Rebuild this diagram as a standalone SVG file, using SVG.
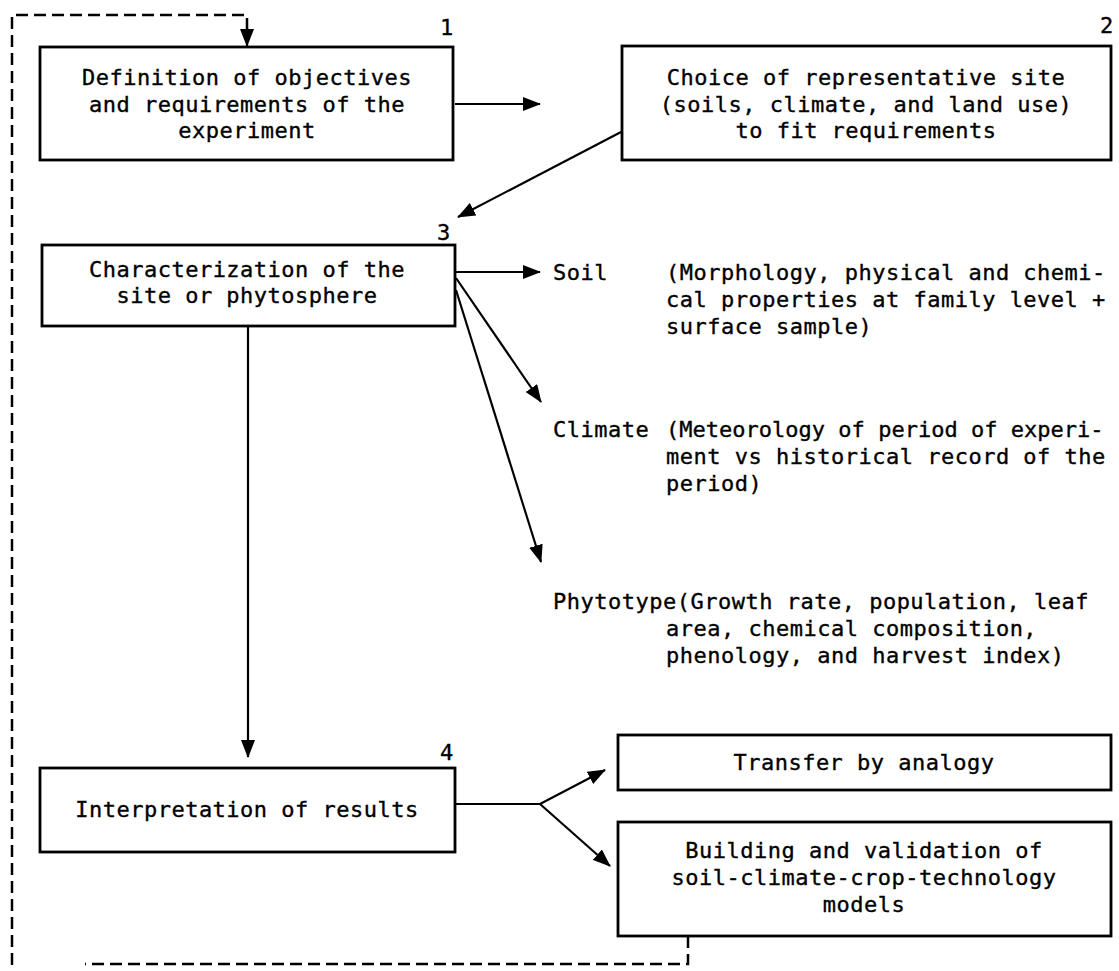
<svg xmlns="http://www.w3.org/2000/svg" width="1119" height="971" viewBox="0 0 1119 971">
<style>
.box{fill:#fff;stroke:#000;stroke-width:2.8}
.t{font-family:"DejaVu Sans Mono","Liberation Mono",monospace;font-size:22px;letter-spacing:0.5px;fill:#000;stroke:#000;stroke-width:0.35}
.c{text-anchor:middle}
.ln{fill:none;stroke:#000;stroke-width:2.2}
.dash{fill:none;stroke:#000;stroke-width:2.5;stroke-dasharray:12 6}
</style>
<defs>
<marker id="ah" markerWidth="18" markerHeight="14" refX="17" refY="7" orient="auto" markerUnits="userSpaceOnUse">
<path d="M0,0 L18,7 L0,14 Z" fill="#000"/>
</marker>
</defs>
<rect width="1119" height="971" fill="#fff"/>
<g id="connectors">
<path class="dash" d="M688,936 V964 H85"/>
<path class="dash" d="M12,965 V15 H247 V30"/>
<line class="ln" x1="247" y1="28" x2="247" y2="46" marker-end="url(#ah)"/>
<line class="ln" x1="455" y1="104" x2="540" y2="104" marker-end="url(#ah)"/>
<line class="ln" x1="621" y1="132" x2="458" y2="217" marker-end="url(#ah)"/>
<line class="ln" x1="456" y1="272" x2="540" y2="272" marker-end="url(#ah)"/>
<line class="ln" x1="456" y1="278" x2="541" y2="402" marker-end="url(#ah)"/>
<line class="ln" x1="456" y1="290" x2="541" y2="562" marker-end="url(#ah)"/>
<line class="ln" x1="248" y1="326" x2="248" y2="757" marker-end="url(#ah)"/>
<polyline class="ln" points="455,804 540,804"/>
<line class="ln" x1="540" y1="804" x2="605" y2="770" marker-end="url(#ah)"/>
<line class="ln" x1="540" y1="804" x2="610" y2="866" marker-end="url(#ah)"/>
</g>
<g id="n1">
<rect class="box" x="40" y="47" width="413" height="113"/>
<text class="t" x="440" y="35">1</text>
<text class="t c" x="247" y="85">Definition of objectives</text>
<text class="t c" x="247" y="112">and requirements of the</text>
<text class="t c" x="247" y="138">experiment</text>
</g>
<g id="n2">
<rect class="box" x="622" y="46" width="489" height="114"/>
<text class="t" x="1100" y="33">2</text>
<text class="t c" x="866" y="85">Choice of representative site</text>
<text class="t c" x="866" y="112">(soils, climate, and land use)</text>
<text class="t c" x="866" y="138">to fit requirements</text>
</g>
<g id="n3">
<rect class="box" x="42" y="245" width="413" height="81"/>
<text class="t" x="437" y="240">3</text>
<text class="t c" x="247" y="277">Characterization of the</text>
<text class="t c" x="247" y="303">site or phytosphere</text>
</g>
<g id="soil">
<text class="t" x="553" y="280">Soil</text>
<text class="t" x="666" y="280">(Morphology, physical and chemi-</text>
<text class="t" x="666" y="307">cal properties at family level +</text>
<text class="t" x="666" y="334">surface sample)</text>
</g>
<g id="climate">
<text class="t" x="553" y="437">Climate</text>
<text class="t" x="666" y="437" textLength="438" lengthAdjust="spacing">(Meteorology of period of experi-</text>
<text class="t" x="666" y="464">ment vs historical record of the</text>
<text class="t" x="666" y="491">period)</text>
</g>
<g id="phytotype">
<text class="t" x="553" y="609">Phytotype(Growth rate, population, leaf</text>
<text class="t" x="666" y="636">area, chemical composition,</text>
<text class="t" x="666" y="663">phenology, and harvest index)</text>
</g>
<g id="n4">
<rect class="box" x="40" y="768" width="415" height="84"/>
<text class="t" x="440" y="760">4</text>
<text class="t c" x="247" y="817">Interpretation of results</text>
</g>
<g id="transfer">
<rect class="box" x="618" y="735" width="493" height="55"/>
<text class="t c" x="864" y="770">Transfer by analogy</text>
</g>
<g id="building">
<rect class="box" x="618" y="822" width="493" height="114"/>
<text class="t c" x="864" y="858">Building and validation of</text>
<text class="t c" x="864" y="885">soil-climate-crop-technology</text>
<text class="t c" x="864" y="912">models</text>
</g>
</svg>
